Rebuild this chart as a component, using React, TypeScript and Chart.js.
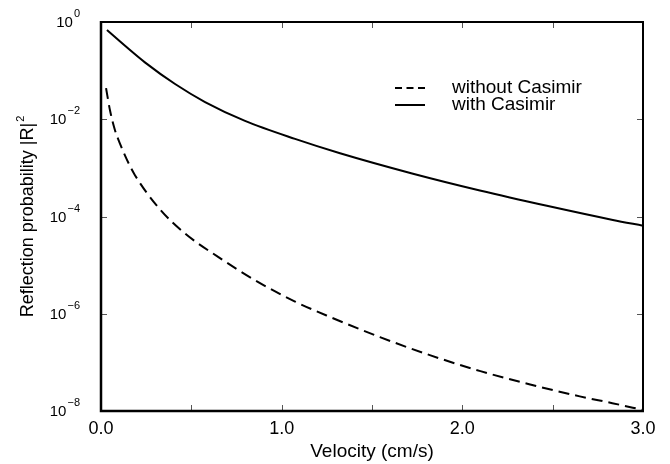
import React, { useEffect, useRef } from "react";
import { Chart, registerables } from "chart.js";

Chart.register(...registerables);

const withCasimirX = [0.033, 0.133, 0.243, 0.41, 0.576, 0.797, 1.074, 1.323, 1.727, 2.097, 2.468, 2.833, 3.0];
const withCasimirY = [0.684, 0.324, 0.148, 0.053, 0.0226, 0.00927, 0.00395, 0.002, 7.59e-4, 3.43e-4, 1.66e-4, 8.5e-5, 6.45e-5];

const withoutCasimirX = [0.028, 0.05, 0.077, 0.105, 0.142, 0.188, 0.326, 0.465, 0.648, 0.852, 1.074, 1.27, 1.544, 1.82, 2.1, 2.37, 2.65, 2.83, 3.0];
const withoutCasimirY = [0.0437, 0.0151, 0.00603, 0.00316, 0.00151, 7.08e-4, 1.41e-4, 4.47e-5, 1.48e-5, 4.9e-6, 1.78e-6, 8.51e-7, 3.31e-7, 1.41e-7, 6.61e-8, 3.55e-8, 2.0e-8, 1.45e-8, 1.05e-8];

const xTickValues = [0, 0.5, 1, 1.5, 2, 2.5, 3];
const xTickLabels = ["0.0", "", "1.0", "", "2.0", "", "3.0"];
const yTickExponents = [0, -2, -4, -6, -8];

const seriesNames = ["without Casimir", "with Casimir"];
const xTitle = "Velocity (cm/s)";
const yTitle = "Reflection probability |R|";
const yTitleSup = "2";

const FONT = '"Liberation Sans", Arial, Helvetica, sans-serif';

const toPoints = (xs: number[], ys: number[]) => xs.map((x, i) => ({ x, y: ys[i] }));

const decorPlugin = {
  id: "decor",
  afterDraw(chart: any) {
    const { ctx, chartArea, scales } = chart;
    const { left, right, top, bottom } = chartArea;
    const xs = scales.x;
    const ys = scales.y;
    ctx.save();

    // tick marks (inward)
    ctx.strokeStyle = "#555";
    ctx.lineWidth = 1;
    const tl = 6;
    xTickValues.forEach((v) => {
      const px = Math.round(xs.getPixelForValue(v)) + 0.5;
      ctx.beginPath();
      ctx.moveTo(px, bottom);
      ctx.lineTo(px, bottom - tl);
      ctx.moveTo(px, top);
      ctx.lineTo(px, top + tl);
      ctx.stroke();
    });
    yTickExponents.forEach((e) => {
      const py = Math.round(ys.getPixelForValue(Math.pow(10, e))) + 0.5;
      ctx.beginPath();
      ctx.moveTo(left, py);
      ctx.lineTo(left + tl, py);
      ctx.moveTo(right, py);
      ctx.lineTo(right - tl, py);
      ctx.stroke();
    });

    // frame
    ctx.strokeStyle = "#000";
    ctx.lineWidth = 2;
    ctx.beginPath();
    ctx.moveTo(left, top);
    ctx.lineTo(right, top);
    ctx.lineTo(right, bottom);
    ctx.stroke();
    ctx.lineWidth = 2.5;
    ctx.beginPath();
    ctx.moveTo(left, top - 1);
    ctx.lineTo(left, bottom);
    ctx.lineTo(right + 1, bottom);
    ctx.stroke();

    ctx.fillStyle = "#000";
    // x tick labels
    ctx.font = `18px ${FONT}`;
    ctx.textAlign = "center";
    ctx.textBaseline = "middle";
    xTickValues.forEach((v, i) => {
      if (!xTickLabels[i]) return;
      ctx.fillText(xTickLabels[i], xs.getPixelForValue(v), bottom + 18);
    });

    // y tick labels 10^e
    yTickExponents.forEach((e) => {
      const py = ys.getPixelForValue(Math.pow(10, e));
      const expStr = e === 0 ? "0" : "\u2212" + String(-e);
      ctx.font = `11px ${FONT}`;
      const ew = ctx.measureText(expStr).width;
      const expRight = left - 21;
      ctx.textAlign = "left";
      ctx.textBaseline = "alphabetic";
      ctx.fillText(expStr, expRight - ew, py - 5);
      ctx.font = `15px ${FONT}`;
      ctx.textAlign = "right";
      ctx.textBaseline = "middle";
      ctx.fillText("10", expRight - ew - 1, py + 1);
    });

    // x title
    ctx.font = `19px ${FONT}`;
    ctx.textAlign = "center";
    ctx.textBaseline = "middle";
    ctx.fillText(xTitle, (left + right) / 2, bottom + 41);

    // y title (rotated)
    ctx.save();
    ctx.translate(27, (top + bottom) / 2);
    ctx.rotate(-Math.PI / 2);
    ctx.font = `18px ${FONT}`;
    const mw = ctx.measureText(yTitle).width;
    ctx.font = `11px ${FONT}`;
    const sw = ctx.measureText(yTitleSup).width;
    const total = mw + sw + 1;
    ctx.font = `18px ${FONT}`;
    ctx.textAlign = "left";
    ctx.textBaseline = "middle";
    ctx.fillText(yTitle, -total / 2, 1);
    ctx.font = `11px ${FONT}`;
    ctx.fillText(yTitleSup, -total / 2 + mw + 1, -6);
    ctx.restore();

    // legend
    const lx0 = 395;
    const lx1 = 425;
    const ly = [88, 105];
    ctx.lineWidth = 2;
    ctx.strokeStyle = "#000";
    ctx.setLineDash([7, 4.5]);
    ctx.beginPath();
    ctx.moveTo(lx0, ly[0]);
    ctx.lineTo(lx1, ly[0]);
    ctx.stroke();
    ctx.setLineDash([]);
    ctx.beginPath();
    ctx.moveTo(lx0, ly[1]);
    ctx.lineTo(lx1, ly[1]);
    ctx.stroke();
    ctx.font = `19px ${FONT}`;
    ctx.textAlign = "left";
    ctx.textBaseline = "middle";
    ctx.fillText(seriesNames[0], 452, ly[0]);
    ctx.fillText(seriesNames[1], 452, ly[1]);

    ctx.restore();
  },
};

export default function App() {
  const ref = useRef<HTMLCanvasElement | null>(null);
  useEffect(() => {
    if (!ref.current) return;
    const chart = new Chart(ref.current, {
      type: "line",
      data: {
        datasets: [
          {
            label: seriesNames[0],
            data: toPoints(withoutCasimirX, withoutCasimirY),
            borderColor: "#000",
            borderWidth: 2,
            borderDash: [11, 6],
            pointRadius: 0,
            cubicInterpolationMode: "monotone",
            fill: false,
          },
          {
            label: seriesNames[1],
            data: toPoints(withCasimirX, withCasimirY),
            borderColor: "#000",
            borderWidth: 2,
            pointRadius: 0,
            cubicInterpolationMode: "monotone",
            fill: false,
          },
        ],
      },
      options: {
        responsive: false,
        animation: false,
        devicePixelRatio: 1,
        layout: { padding: { left: 101, right: 27, top: 22, bottom: 53 } },
        plugins: { legend: { display: false }, tooltip: { enabled: false } },
        scales: {
          x: { type: "linear", min: 0, max: 3, display: false },
          y: { type: "logarithmic", min: 1e-8, max: 1, display: false },
        },
      },
      plugins: [decorPlugin],
    } as any);
    return () => chart.destroy();
  }, []);
  return (
    <div style={{ position: "absolute", left: 0, top: 0, width: 670, height: 464, background: "#fff" }}>
      <canvas ref={ref} width={670} height={464} style={{ display: "block" }} />
    </div>
  );
}
